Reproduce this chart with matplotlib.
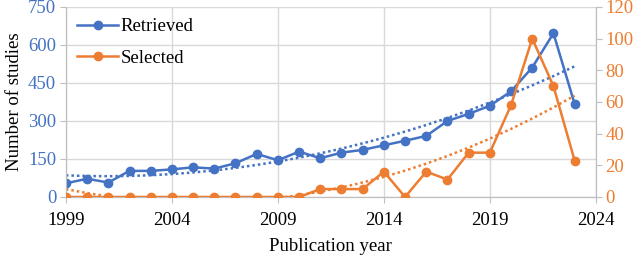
import numpy as np
import matplotlib.pyplot as plt

plt.rcParams['font.family'] = ['Liberation Serif', 'DejaVu Serif']

# Datos
anios = list(range(1999, 2024))
recuperados = [54, 72, 57, 103, 103, 109, 117, 112, 133, 170, 145, 179,
               153, 175, 186, 204, 222, 241, 300, 328, 360, 417, 511, 646, 367]
seleccionados = [0, 0, 0, 0, 0, 0, 0, 0, 0, 0, 0, 0,
                 5, 5, 5, 16, 0, 16, 11, 28, 28, 58, 100, 70, 23]

azul = '#4472C4'
naranja = '#ED7D31'
gris = '#D9D9D9'

fig = plt.figure(figsize=(6.4, 2.57), dpi=100)
ax = fig.add_axes([0.103, 0.2335, 0.828, 0.7395])
ax2 = ax.twinx()

x = np.array(anios)

# Líneas de tendencia polinómicas (orden 2)
tr1 = np.polyval(np.polyfit(x, recuperados, 2), x)
tr2 = np.polyval(np.polyfit(x, seleccionados, 2), x)

ax.plot(x, tr1, ls=(0, (1, 1.2)), color=azul, lw=1.8, zorder=2)
ax2.plot(x, tr2, ls=(0, (1, 1.2)), color=naranja, lw=1.8, zorder=2)

l1, = ax.plot(x, recuperados, '-o', color=azul, lw=1.8, ms=6,
              label='Retrieved', zorder=3)
l2, = ax2.plot(x, seleccionados, '-o', color=naranja, lw=1.8, ms=6,
               label='Selected', zorder=3)

ax.set_xlim(1999, 2024)
ax.set_ylim(0, 750)
ax2.set_ylim(0, 120)
ax.set_xticks(range(1999, 2025, 5))
ax.set_yticks(range(0, 751, 150))
ax2.set_yticks(range(0, 121, 20))

ax.grid(True, color=gris, lw=1)
ax.set_axisbelow(True)

for a in (ax, ax2):
    for s in a.spines.values():
        s.set_color('#BFBFBF')
    a.spines['top'].set_visible(False)
    a.tick_params(colors='#BFBFBF', length=4, labelsize=13.5)

ax.tick_params(axis='y', labelcolor=azul, pad=3)
ax.tick_params(axis='x', labelcolor='black', pad=7)
ax2.tick_params(axis='y', labelcolor=naranja, pad=3)

ax.set_xlabel('Publication year', fontsize=13.5, labelpad=6)
ax.set_ylabel('Number of studies', fontsize=13.5, labelpad=4)

ax2.legend(handles=[l1, l2], loc='upper left', frameon=False, fontsize=13.5,
           handlelength=2.2, handletextpad=0.1, borderaxespad=0.2,
           labelspacing=0.75)

fig.savefig('out.png', dpi=100)
